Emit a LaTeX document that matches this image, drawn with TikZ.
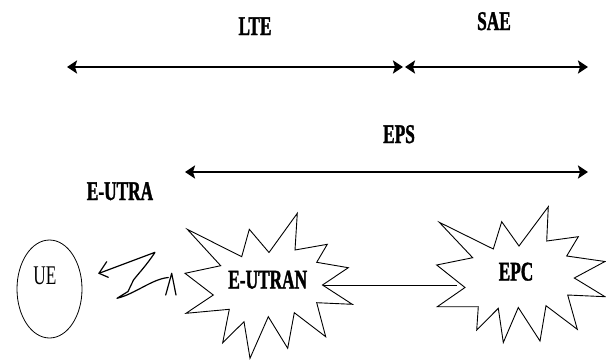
\documentclass[tikz,border=0pt]{standalone}
\usepackage{fontspec}
\setmainfont{Liberation Serif}
\newfontfamily\condfont[FakeStretch=0.64]{Liberation Serif}
\newfontfamily\condboldfont[FakeStretch=0.64, FakeBold=1.3]{Liberation Serif Bold}
\usetikzlibrary{arrows.meta}

\begin{document}
\begin{tikzpicture}[x=1pt,y=-1pt,
  lbl/.style={font=\condboldfont\fontsize{27}{30}\selectfont, inner sep=0pt, anchor=base},
  plainlbl/.style={font=\condfont\fontsize{27}{30}\selectfont, inner sep=0pt, anchor=base},
  span/.style={line width=2.7pt, {Stealth[length=10pt,width=13pt,inset=2pt]}-{Stealth[length=10pt,width=13pt,inset=2pt]}},
  burst/.style={draw, line width=0.9pt, line join=miter},
  wire/.style={line width=0.8pt},
  bolt/.style={line width=1.2pt, line join=round, line cap=round}]
\useasboundingbox (0,0) rectangle (606,360);

% span end points
\coordinate (lteL) at (67,67);
\coordinate (lteR) at (403,67);
\coordinate (saeL) at (405,67);
\coordinate (saeR) at (588,67);
\coordinate (epsL) at (185,172);
\coordinate (epsR) at (588,172);

% spans
\draw[span] (lteL) -- (lteR);
\draw[span] (saeL) -- (saeR);
\draw[span] (epsL) -- (epsR);

% span labels
\node[lbl] (lte) at (255,35) {LTE};
\node[lbl] (sae) at (494,30) {SAE};
\node[lbl] (eps) at (399,143) {EPS};
\node[lbl] (eutra) at (120,200) {E-UTRA};

% user equipment
\draw[wire] (49.5,289) ellipse [x radius=32.5, y radius=49];
\node[plainlbl] (ue) at (45,284) {UE};

% radio link (lightning bolt)
\coordinate (boltTip) at (99,273.3);
\coordinate (boltTop) at (155,252.3);
\coordinate (boltLow) at (117,298.3);
\coordinate (caretTop) at (171.7,273.3);
\draw[bolt] (106.7,261.7) -- (boltTip) -- (108.3,277.3);
\draw[bolt] (boltTip) -- (boltTop)
  .. controls (146,266) and (138,274) .. (133.5,280)
  -- (128,291.5) -- (boltLow)
  .. controls (135,294) and (152,279) .. (168.3,277.5);
\draw[bolt] (165.7,295) -- (caretTop) -- (176,295);

% E-UTRAN burst
\draw[burst] (187.3,229.3) -- (241.7,256.7) -- (249.3,229.3) -- (269,252.5)
  -- (297.3,213.3) -- (295,250) -- (327.3,244.3) -- (316.7,262.3)
  -- (348.3,267.7) -- (322.5,285) -- (352.3,304.3) -- (316.7,302.7)
  -- (325.7,336.7) -- (294.3,312.7) -- (287.7,348.3) -- (268.3,316.7)
  -- (250,358.3) -- (244,321.7) -- (222.7,342.7) -- (229.3,309.3)
  -- (186,313.3) -- (213.3,295) -- (185,273.3) -- (220.7,265.7) -- cycle;
\coordinate (eutranR) at (322.5,285);
\node[lbl] (eutran) at (267.7,288.5) {E-UTRAN};

% EPC burst
\draw[burst] (439.3,222.3) -- (493.3,249) -- (501.7,221.7) -- (519,246)
  -- (548.3,206.7) -- (546.7,241) -- (578.3,236.7) -- (566.7,256)
  -- (605,261.5) -- (574.3,278) -- (605,296.7) -- (567.7,295)
  -- (577.3,329.3) -- (546,305.7) -- (540,341) -- (518.3,307.5)
  -- (503.3,342.5) -- (498.3,308.3) -- (476.7,330) -- (478.3,306.7)
  -- (437.3,306.7) -- (465,287.5) -- (436.7,265) -- (472.7,257.7) -- cycle;
\coordinate (epcL) at (457,285);
\node[lbl] (epc) at (516,280.5) {EPC};

% link between access network and core
\draw[wire] (eutranR) -- (epcL);
\end{tikzpicture}
\end{document}
